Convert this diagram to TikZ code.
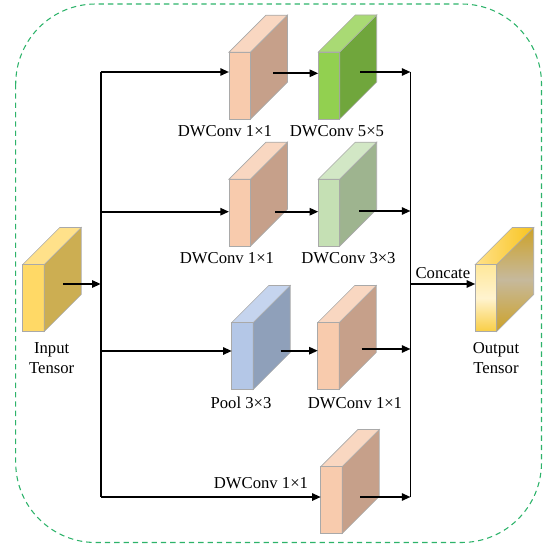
\documentclass[tikz,border=0pt]{standalone}
\usepackage{fontspec}
\setmainfont{Liberation Serif}
\usetikzlibrary{arrows.meta,calc}

\definecolor{edgegray}{HTML}{A9A9A9}
\definecolor{framegreen}{HTML}{2DB36A}
\definecolor{peachF}{HTML}{F8CBAD}
\definecolor{peachS}{HTML}{C6A08A}
\definecolor{peachT}{HTML}{F9D7C1}
\definecolor{greenF}{HTML}{92D050}
\definecolor{greenS}{HTML}{70A63C}
\definecolor{greenT}{HTML}{A9DA74}
\definecolor{lgreenF}{HTML}{C5E0B4}
\definecolor{lgreenS}{HTML}{9EB48F}
\definecolor{lgreenT}{HTML}{D2E7C5}
\definecolor{blueF}{HTML}{B4C7E7}
\definecolor{blueS}{HTML}{8FA0BA}
\definecolor{blueT}{HTML}{C5D4EE}
\definecolor{yelF}{HTML}{FFD966}
\definecolor{yelS}{HTML}{CCAE52}
\definecolor{yelT}{HTML}{FFE18A}
\definecolor{goldS}{HTML}{CDA228}
\definecolor{greyS}{HTML}{C6B99C}
\definecolor{goldT}{HTML}{F8C41E}
\definecolor{outTop}{HTML}{FFE89A}
\definecolor{outMid}{HTML}{FFF3CF}
\definecolor{outBot}{HTML}{F9CE45}

\begin{document}
\begin{tikzpicture}[x=0.75pt, y=-0.75pt,
  face/.style={draw=edgegray, line width=0.5pt, minimum width=16.1pt, minimum height=50.25pt, inner sep=0pt, outer sep=0pt},
  lbl/.style={font=\fontsize{12.5}{15}\selectfont, inner sep=0pt, align=center},
  bus/.style={line width=1.3pt},
  flow/.style={line width=1.3pt, -{Triangle[length=6.5pt,width=5.5pt]}},
  frame/.style={draw=framegreen, line width=0.8pt, dash pattern=on 4pt off 3pt, rounded corners=60pt}]
  \useasboundingbox (0,0) rectangle (548,548);
  \draw[frame] (15.7,4) rectangle (541.5,542.5);
  % blocks (front faces)
  \node[face, fill=yelF] (inp) at (33.5,298) {};
  \node[face, fill=peachF] (a1) at (239.7,85.7) {};
  \node[face, fill=greenF] (b1) at (329,85.5) {};
  \node[face, fill=peachF] (a2) at (239.7,212.7) {};
  \node[face, fill=lgreenF] (b2) at (329,212.7) {};
  \node[face, fill=blueF] (pool) at (242.5,356) {};
  \node[face, fill=peachF] (b3) at (328.5,356) {};
  \node[face, fill=peachF] (d1) at (331.5,500) {};
  \node[face, top color=outTop, bottom color=outBot, middle color=outMid] (out) at (486,298) {};
  % side and top faces
  \foreach \n/\s/\t in {inp/yelS/yelT, a1/peachS/peachT, b1/greenS/greenT, a2/peachS/peachT,
    b2/lgreenS/lgreenT, pool/blueS/blueT, b3/peachS/peachT, d1/peachS/peachT} {
    \draw[draw=edgegray, line width=0.5pt, fill=\s] (\n.north east) -- ++(37,-37) -- ++(0,67) -- (\n.south east) -- cycle;
    \draw[draw=edgegray, line width=0.5pt, fill=\t] (\n.north west) -- ++(37,-37) -- ++(21.5,0) -- (\n.north east) -- cycle;
  }
  \draw[draw=edgegray, line width=0.5pt, top color=goldS, bottom color=goldS, middle color=greyS] (out.north east) -- ++(37,-37) -- ++(0,67) -- (out.south east) -- cycle;
  \draw[draw=edgegray, line width=0.5pt, left color=yelT, right color=goldT] (out.north west) -- ++(37,-37) -- ++(21.5,0) -- (out.north east) -- cycle;
  % labels
  \node[lbl] at (225,130.7) {DWConv 1×1};
  \node[lbl] at (337,130.7) {DWConv 5×5};
  \node[lbl] at (227,258.5) {DWConv 1×1};
  \node[lbl] at (348.5,258.5) {DWConv 3×3};
  \node[lbl] at (241,402.7) {Pool 3×3};
  \node[lbl] at (355,402.7) {DWConv 1×1};
  \node[lbl] at (261,483.3) {DWConv 1×1};
  \node[lbl] at (51.7,358) {Input\\Tensor};
  \node[lbl] at (496,358) {Output\\Tensor};
  % buses
  \coordinate (l1) at (100.7,72);
  \coordinate (l2) at (100.7,211.7);
  \coordinate (l3) at (100.7,351);
  \coordinate (l4) at (100.7,497);
  \coordinate (lc) at (100.7,284);
  \coordinate (r1) at (410.5,72);
  \coordinate (r4) at (410.5,497);
  \coordinate (rc) at (410.5,284);
  \draw[bus] (l1) -- (l4);
  \draw[bus] (r1) -- (r4);
  % arrows
  \coordinate (is) at (63,284);
  \draw[flow] (is) -- (lc);
  \draw[flow] (l1) -- (l1 -| a1.west);
  \draw[flow] (l2) -- (l2 -| a2.west);
  \draw[flow] (l3) -- (l3 -| pool.west);
  \draw[flow] (l4) -- (l4 -| d1.west);
  \coordinate (m1) at (273,73.3);
  \coordinate (m2) at (275,211.7);
  \coordinate (m3) at (280.7,350.7);
  \draw[flow] (m1) -- (m1 -| b1.west);
  \draw[flow] (m2) -- (m2 -| b2.west);
  \draw[flow] (m3) -- (m3 -| b3.west);
  \coordinate (o1) at (360,72);
  \coordinate (o2) at (359,211);
  \coordinate (o3) at (361.7,349);
  \coordinate (o4) at (360,497);
  \draw[flow] (o1) -- (r1);
  \draw[flow] (o2) -- (o2 -| r1);
  \draw[flow] (o3) -- (o3 -| r1);
  \draw[flow] (o4) -- (r4);
  \draw[flow] (rc) -- node[lbl, above=3.5pt] {Concate} (rc -| out.west);
\end{tikzpicture}
\end{document}
